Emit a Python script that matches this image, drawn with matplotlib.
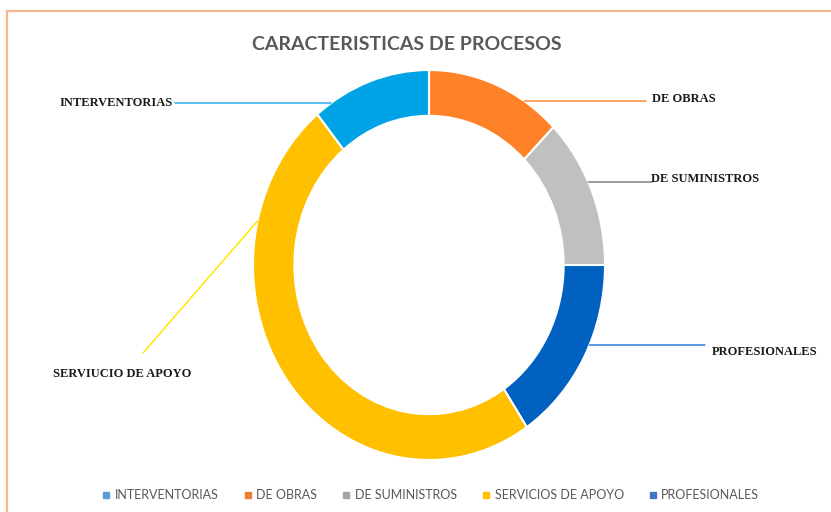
import numpy as np
import matplotlib.pyplot as plt
from matplotlib.patches import Rectangle
from matplotlib.lines import Line2D

# Legend categories (legend order)
categories = ["INTERVENTORIAS", "DE OBRAS", "DE SUMINISTROS", "SERVICIOS DE APOYO", "PROFESIONALES"]
# Labels written beside the ring (original typo kept)
ring_labels = ["INTERVENTORIAS", "DE OBRAS", "DE SUMINISTROS", "SERVIUCIO DE APOYO", "PROFESIONALES"]
counts = [7, 8, 8, 31, 10]
colors = ["#00A3E6", "#FF8229", "#C0C0C0", "#FFC000", "#0061C1"]
leader_colors = ["#2BA8E8", "#FF8A3D", "#808080", "#FFE800", "#2F7FD8"]
legend_colors = ["#5B9BD5", "#ED7D31", "#A5A5A5", "#FFC000", "#4472C4"]
# clockwise order around the ring, starting at 12 o'clock
ring_order = [1, 2, 4, 3, 0]

W, H = 831, 512
cx, cy, rx, ry = 429, 265, 176, 195   # ring placement in pixels (top origin)

fig = plt.figure(figsize=(W / 100, H / 100), dpi=100)

# light orange chart border (right and bottom run off the picture)
fig.add_artist(Rectangle((7 / W, -0.2), 1.3, 1 - 11 / H + 0.2, transform=fig.transFigure,
                         fill=False, edgecolor="#F8B88B", linewidth=1.6, clip_on=False))

ax = fig.add_axes([(cx - rx) / W, (H - cy - ry) / H, 2 * rx / W, 2 * ry / H])
vals = [counts[i] for i in ring_order]
cols = [colors[i] for i in ring_order]
wedges, _ = ax.pie(vals, colors=cols, startangle=90, counterclock=False, radius=1,
                   wedgeprops=dict(width=0.235, edgecolor="white", linewidth=1.5))
ax.set_aspect("auto")
ax.set_xlim(-1, 1)
ax.set_ylim(-1, 1)
ax.axis("off")

fig.text(407 / W, 1 - 45 / H, "CARACTERISTICAS DE PROCESOS", ha="center", va="center",
         fontsize=14, fontweight="bold", color="#595959", family="Lato")

# label layout: (y where leader meets ring, leader end x, leader end y, text x, text y, ha)
label_layout = {
    0: (103, 175, 103, 173, 103, "right"),
    1: (101, 646, 101, 652, 99, "left"),
    2: (182, 652, 182, 651, 179, "left"),
    3: (221, 143, 353, 53, 374, "left"),
    4: (345, 705, 345, 712, 352, "left"),
}

for w, idx in zip(wedges, ring_order):
    mid = np.radians((w.theta1 + w.theta2) / 2)
    side = np.sign(np.cos(mid))
    ay, ex, ey, tx, ty, ha = label_layout[idx]
    dy = (cy - ay) / ry
    dx = side * np.sqrt(max(0.0, 1 - dy ** 2))
    ax.annotate("", xy=(dx, dy), xycoords="data", xytext=(ex, H - ey),
                textcoords="figure pixels", annotation_clip=False,
                arrowprops=dict(arrowstyle="-", color=leader_colors[idx], lw=1.1,
                                shrinkA=0, shrinkB=0))
    fig.text(tx / W, 1 - ty / H, ring_labels[idx], ha=ha, va="center",
             fontsize=9, fontweight="bold", color="#1A1A1A", family="Liberation Serif")

handles = [Line2D([], [], marker="s", linestyle="none", markersize=4, color=c)
           for c in legend_colors]
fig.legend(handles, categories, loc="center", bbox_to_anchor=(431 / W, 1 - 495 / H),
           ncol=5, frameon=False, handlelength=0.6, handletextpad=0.4, columnspacing=2.0,
           prop=dict(family="Lato", size=9), labelcolor="#595959")

fig.savefig("out.png", dpi=100)
